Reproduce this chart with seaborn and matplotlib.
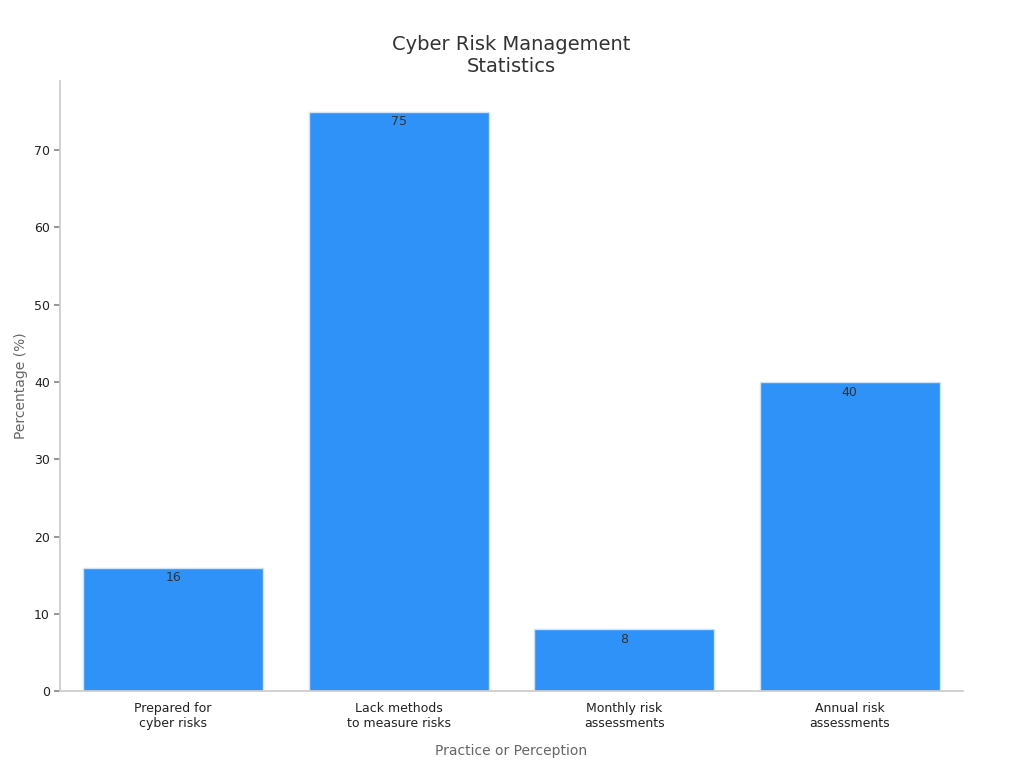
import matplotlib
matplotlib.use("Agg")
import matplotlib.pyplot as plt
import seaborn as sns
import pandas as pd

categories = ["Prepared for\ncyber risks", "Lack methods\nto measure risks", "Monthly risk\nassessments", "Annual risk\nassessments"]
values = [16, 75, 8, 40]

sns.set_theme(style="white")
plt.rcParams['font.family'] = ['DejaVu Sans']
fig, ax = plt.subplots(figsize=(10.24, 7.68), dpi=100)
df = pd.DataFrame({"cat": categories, "val": values})
sns.barplot(data=df, x="cat", y="val", color="#2f92f8", saturation=1, width=0.8, edgecolor="#cfe3fb", linewidth=1, ax=ax)
for i, v in enumerate(values):
    ax.text(i, v - 0.5, str(v), ha="center", va="top", fontsize=9, color="#333333")
ax.set_title("Cyber Risk Management\nStatistics", fontsize=14, color="#333333")
ax.set_xlabel("Practice or Perception", fontsize=10, color="#666666", labelpad=10)
ax.set_ylabel("Percentage (%)", fontsize=10, color="#666666")
ax.tick_params(axis="both", labelsize=9, colors="#222222", left=True, length=4)
ax.tick_params(axis="y", color="#888888")
for s in ["top", "right"]:
    ax.spines[s].set_visible(False)
for s in ["left", "bottom"]:
    ax.spines[s].set_color("#cccccc")
ax.set_ylim(0, 79)
ax.set_xlim(-0.5, 3.5)
plt.subplots_adjust(left=0.059, right=0.94, top=0.895, bottom=0.1)
fig.savefig("out.png")
